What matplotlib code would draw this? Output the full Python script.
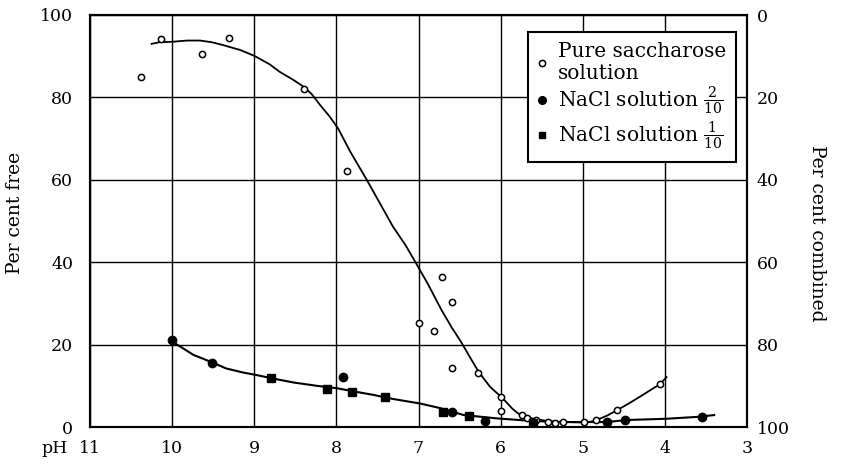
import matplotlib
matplotlib.use("Agg")
import matplotlib.pyplot as plt
from matplotlib.lines import Line2D

plt.rcParams['font.family'] = ['DejaVu Serif']
plt.rcParams['mathtext.fontset'] = 'dejavuserif'

# ---- data ----
sacch_ph = [10.38, 10.13, 9.64, 9.31, 8.39, 7.87, 6.71, 6.59, 6.99, 6.81, 6.59, 6.28,
            5.99, 5.99, 5.74, 5.68, 5.57, 5.42, 5.34, 5.24, 4.99, 4.84, 4.58, 4.06]
sacch_val = [85.0, 94.2, 90.6, 94.3, 82.0, 62.1, 36.5, 30.3, 25.3, 23.4, 14.4, 13.0,
             7.4, 3.8, 2.8, 2.3, 1.7, 1.2, 1.0, 1.1, 1.1, 1.7, 4.1, 10.4]

nacl2_ph = [10.0, 9.52, 7.92, 6.59, 6.19, 4.70, 4.49, 3.55]
nacl2_val = [21.0, 15.5, 12.2, 3.7, 1.5, 1.1, 1.6, 2.5]

nacl1_ph = [8.79, 8.11, 7.81, 7.41, 6.70, 6.39, 5.60]
nacl1_val = [11.8, 9.2, 8.4, 7.2, 3.7, 2.7, 0.9]

# hand-drawn fitted curves
sacch_curve_ph = [10.25, 10.15, 10.0, 9.82, 9.66, 9.52, 9.38, 9.17, 8.99, 8.81, 8.69,
                  8.52, 8.40, 8.30, 8.20, 8.08, 7.98, 7.83, 7.63, 7.47, 7.31, 7.16,
                  7.04, 6.88, 6.72, 6.60, 6.48, 6.39, 6.28, 6.20, 6.13, 6.06, 5.99,
                  5.92, 5.86, 5.80, 5.74, 5.65, 5.56, 5.42, 5.20, 4.99, 4.90, 4.83,
                  4.70, 4.58, 4.44, 4.30, 4.18, 4.06, 3.98]
sacch_curve_val = [93.0, 93.4, 93.5, 93.8, 93.8, 93.4, 92.7, 91.5, 90.0, 88.0, 86.2,
                   84.2, 82.6, 80.8, 78.2, 75.3, 72.5, 66.8, 60.0, 54.3, 48.6, 44.2,
                   40.1, 34.5, 28.4, 24.3, 20.6, 17.5, 13.8, 11.6, 9.8, 8.5, 7.3,
                   5.8, 4.5, 3.5, 2.7, 2.2, 1.9, 1.4, 1.2, 1.1, 1.3, 1.7,
                   2.8, 4.1, 5.7, 7.4, 8.9, 10.4, 12.1]

nacl_curve_ph = [10.0, 9.90, 9.74, 9.54, 9.34, 9.13, 8.97, 8.73, 8.52, 8.24, 7.99,
                 7.75, 7.55, 7.31, 6.98, 6.74, 6.45, 6.05, 5.64, 5.30, 4.71, 4.46,
                 3.98, 3.57, 3.40]
nacl_curve_val = [20.7, 19.5, 17.5, 15.9, 14.2, 13.2, 12.6, 11.6, 10.8, 10.0, 9.4,
                  8.5, 7.8, 6.8, 5.7, 4.6, 2.9, 2.1, 1.5, 1.2, 1.2, 1.7,
                  2.0, 2.5, 2.9]

x_ticks = [11, 10, 9, 8, 7, 6, 5, 4, 3]
y_ticks = [0, 20, 40, 60, 80, 100]

legend_labels = ["Pure saccharose\nsolution",
                 r"NaCl solution $\frac{2}{10}$",
                 r"NaCl solution $\frac{1}{10}$"]

# ---- figure ----
fig = plt.figure(figsize=(8.41, 4.69), dpi=100)
ax = fig.add_axes([90/841, 42/469, 657/841, 412/469])

ax.set_xlim(11, 3)
ax.set_ylim(0, 100)
ax.set_xticks(x_ticks)
ax.set_xticklabels([str(t) for t in x_ticks])
ax.set_yticks(y_ticks)
ax.grid(True, color='black', linewidth=1.0)
ax.set_axisbelow(True)
for s in ax.spines.values():
    s.set_linewidth(1.5)
ax.tick_params(axis='x', length=0, pad=9, labelsize=12.5)
ax.tick_params(axis='y', length=0, pad=12, labelsize=12.5)

ax.plot(sacch_curve_ph, sacch_curve_val, color='black', lw=1.3, zorder=3,
        solid_joinstyle='round')
ax.plot(nacl_curve_ph, nacl_curve_val, color='black', lw=1.5, zorder=3,
        solid_joinstyle='round')

ax.plot(sacch_ph, sacch_val, linestyle='none', marker='o', ms=4.5, mfc='white',
        mec='black', mew=1.1, zorder=4)
ax.plot(nacl2_ph, nacl2_val, linestyle='none', marker='o', ms=6, mfc='black',
        mec='black', zorder=4)
ax.plot(nacl1_ph, nacl1_val, linestyle='none', marker='s', ms=5.5, mfc='black',
        mec='black', zorder=4)

ax.set_ylabel("Per cent free", fontsize=13.5)
ax.yaxis.set_label_coords(-0.1, 0.52)

ax.annotate("pH", xy=(11, 0), xycoords=('data', 'axes fraction'),
            xytext=(-16, -9), textcoords='offset points', ha='right', va='top',
            fontsize=12.5)

ax2 = ax.twinx()
ax2.set_ylim(100, 0)
ax2.set_yticks(y_ticks)
ax2.tick_params(axis='y', length=0, pad=7, labelsize=12.5)
for s in ax2.spines.values():
    s.set_linewidth(1.5)
ax2.set_ylabel("Per cent combined", fontsize=13.5, rotation=270)
ax2.yaxis.set_label_coords(1.12, 0.47)

handles = [
    Line2D([], [], linestyle='none', marker='o', ms=4.5, mfc='white', mec='black', mew=1.1),
    Line2D([], [], linestyle='none', marker='o', ms=5.5, mfc='black', mec='black'),
    Line2D([], [], linestyle='none', marker='s', ms=4.5, mfc='black', mec='black'),
]
leg = ax2.legend(handles, legend_labels, loc='upper right',
                 bbox_to_anchor=(0.983, 0.959), borderaxespad=0,
                 frameon=True, fancybox=False, framealpha=1, edgecolor='black',
                 fontsize=14.5, handlelength=0.4, handletextpad=0.55,
                 labelspacing=0.1, borderpad=0.5)
leg.get_frame().set_linewidth(1.5)
leg.set_zorder(10)

fig.savefig("out.png", dpi=100)
